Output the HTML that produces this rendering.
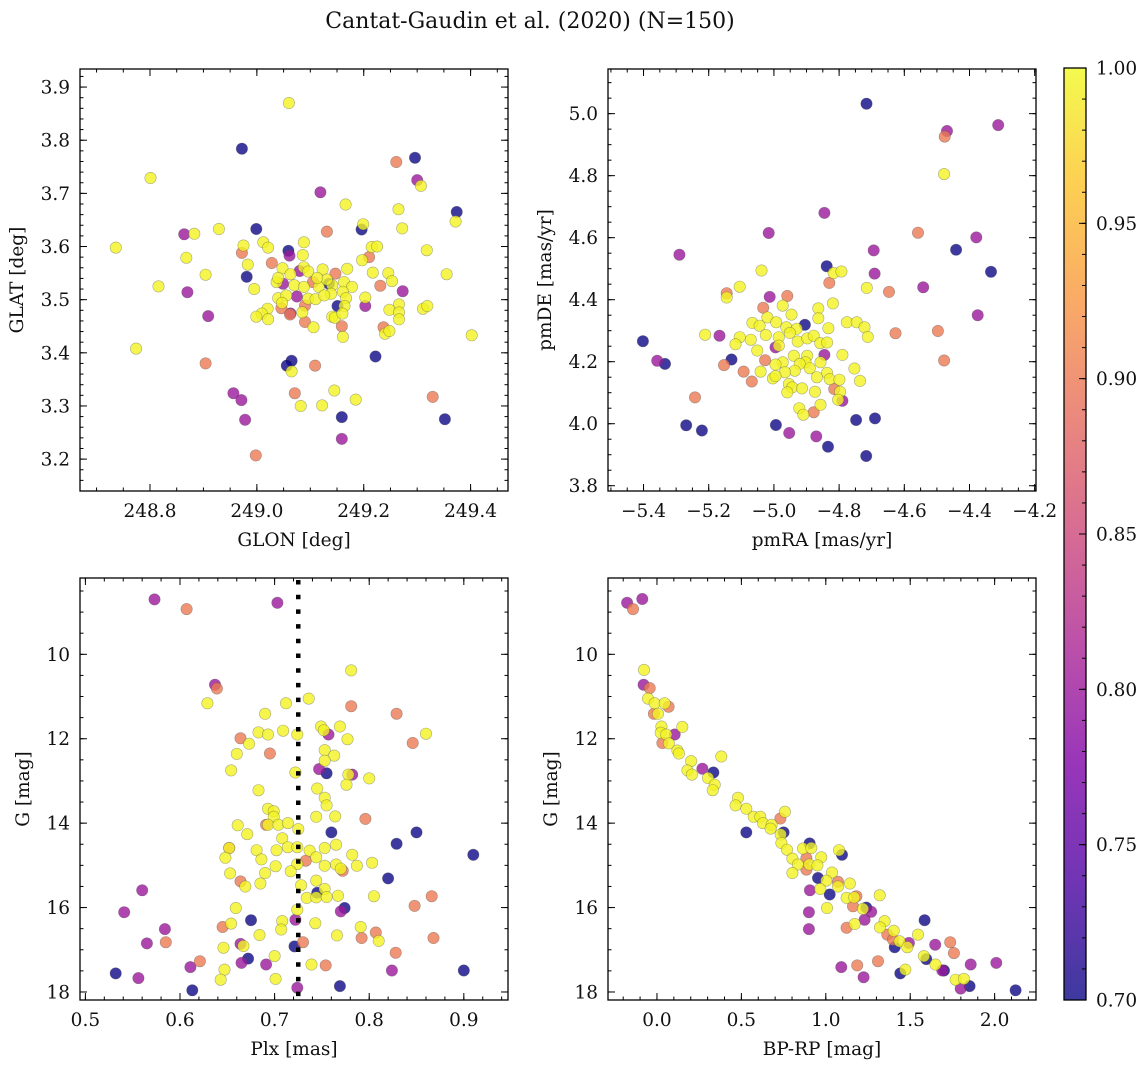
<!DOCTYPE html>
<html><head><meta charset="utf-8">
<style>
html,body{margin:0;padding:0;background:#fff;}
svg{display:block;font-family:"DejaVu Serif","Liberation Serif",serif;}
</style></head>
<body>
<svg id="fig" width="1148" height="1068" viewBox="0 0 1148 1068" xmlns="http://www.w3.org/2000/svg">
<text x="530" y="28" font-size="22" text-anchor="middle" fill="#111">Cantat-Gaudin et al. (2020) (N=150)</text>
</svg>
<script>
// ---- Panel 1: GLON vs GLAT ----
const p1_glon=[249.060,248.972,248.801,249.261,249.296,249.300,249.307,249.119,249.166,249.265,249.374,249.372,248.999,249.131,249.196,249.199,249.272,248.864,248.883,248.929,248.736,248.975,249.012,249.021,249.059,249.061,248.972,249.088,249.086,249.215,249.225,249.318,248.868,248.983,249.028,249.210,249.197,248.904,248.981,249.048,249.063,249.088,249.080,249.096,249.123,249.147,249.169,249.217,249.246,249.355,248.816,249.037,249.049,249.070,249.105,249.088,249.116,249.135,249.141,249.163,249.178,249.231,249.253,249.273,248.995,248.870,249.040,249.075,249.096,249.110,249.139,249.161,249.167,249.055,249.203,249.203,249.151,249.164,249.047,249.266,249.311,249.319,249.248,249.046,249.062,249.063,249.085,249.020,249.009,248.999,249.021,248.909,249.090,249.106,249.141,249.146,249.160,249.266,249.266,249.159,249.161,249.237,249.240,249.248,249.402,248.774,248.904,249.065,249.056,249.065,249.109,249.222,248.956,248.971,249.071,249.145,249.185,249.082,249.122,249.329,248.978,249.159,249.352,249.159,248.998,249.040,249.131,249.126,249.113,249.090];
const p1_glat=[3.870,3.784,3.729,3.759,3.767,3.725,3.714,3.702,3.679,3.670,3.665,3.647,3.633,3.628,3.632,3.642,3.634,3.623,3.624,3.633,3.598,3.602,3.608,3.598,3.592,3.583,3.588,3.608,3.584,3.599,3.600,3.593,3.579,3.566,3.569,3.580,3.574,3.547,3.543,3.559,3.548,3.561,3.554,3.553,3.557,3.549,3.558,3.551,3.550,3.548,3.525,3.533,3.530,3.527,3.533,3.524,3.524,3.530,3.527,3.533,3.524,3.526,3.535,3.516,3.520,3.514,3.503,3.506,3.502,3.501,3.511,3.515,3.503,3.508,3.504,3.488,3.488,3.488,3.494,3.491,3.483,3.488,3.481,3.484,3.472,3.474,3.476,3.483,3.474,3.468,3.463,3.469,3.458,3.448,3.468,3.466,3.474,3.476,3.463,3.450,3.430,3.448,3.436,3.441,3.433,3.408,3.380,3.385,3.376,3.365,3.376,3.393,3.324,3.311,3.324,3.329,3.312,3.300,3.301,3.317,3.274,3.279,3.275,3.238,3.207,3.541,3.538,3.508,3.541,3.489];
const p1_prob=[0.995,0.7,0.995,0.9,0.7,0.8,0.995,0.8,0.995,0.995,0.7,0.995,0.7,0.9,0.7,0.995,0.995,0.8,0.995,0.995,0.995,0.995,0.995,0.995,0.7,0.8,0.9,0.995,0.995,0.995,0.995,0.995,0.995,0.995,0.9,0.9,0.995,0.995,0.7,0.995,0.995,0.995,0.8,0.995,0.995,0.9,0.995,0.995,0.995,0.995,0.995,0.995,0.8,0.995,0.9,0.995,0.995,0.7,0.995,0.995,0.995,0.9,0.995,0.8,0.995,0.8,0.995,0.8,0.995,0.995,0.995,0.995,0.995,0.995,0.995,0.8,0.7,0.995,0.995,0.995,0.995,0.995,0.995,0.9,0.9,0.8,0.995,0.995,0.995,0.995,0.995,0.8,0.9,0.995,0.995,0.995,0.995,0.995,0.995,0.9,0.995,0.9,0.995,0.995,0.995,0.995,0.9,0.7,0.7,0.995,0.9,0.7,0.8,0.8,0.9,0.995,0.995,0.995,0.995,0.9,0.8,0.7,0.7,0.8,0.9,0.995,0.995,0.995,0.995,0.9];
const p1_xticks=[248.8,249.0,249.2,249.4];
const p1_yticks=[3.2,3.3,3.4,3.5,3.6,3.7,3.8,3.9];

// ---- Panel 2: pmRA vs pmDE ----
const p2_pmra=[-4.716,-4.312,-4.469,-4.476,-4.478,-4.845,-5.016,-4.558,-4.379,-5.290,-4.694,-4.441,-4.838,-4.334,-4.691,-5.038,-4.817,-4.793,-4.830,-5.105,-5.145,-5.145,-4.715,-4.647,-4.542,-5.013,-4.959,-4.819,-5.033,-4.973,-4.864,-4.375,-4.946,-4.864,-4.905,-5.066,-5.020,-4.993,-5.044,-4.962,-4.930,-4.833,-4.776,-4.746,-4.722,-4.712,-4.627,-4.497,-5.402,-5.211,-5.167,-5.105,-5.118,-5.071,-5.025,-4.985,-4.951,-4.927,-4.898,-4.878,-4.858,-4.837,-4.995,-4.985,-5.051,-5.358,-5.334,-5.130,-5.153,-5.027,-4.939,-4.898,-4.845,-4.857,-4.790,-4.903,-4.921,-4.973,-4.478,-4.995,-4.936,-4.890,-4.753,-5.093,-5.041,-4.966,-4.837,-5.068,-5.003,-4.995,-4.868,-4.829,-4.799,-4.736,-4.954,-4.944,-4.914,-4.959,-4.874,-4.815,-4.797,-5.242,-4.790,-4.803,-4.857,-4.922,-4.878,-4.910,-5.269,-5.221,-4.994,-4.953,-4.870,-4.748,-4.690,-4.834,-4.717];
const p2_pmde=[5.032,4.963,4.944,4.926,4.805,4.680,4.615,4.616,4.601,4.545,4.559,4.561,4.508,4.490,4.484,4.494,4.486,4.491,4.454,4.442,4.421,4.407,4.438,4.425,4.440,4.409,4.412,4.388,4.374,4.381,4.372,4.350,4.352,4.340,4.319,4.325,4.343,4.327,4.316,4.311,4.306,4.308,4.327,4.327,4.311,4.280,4.292,4.299,4.266,4.287,4.284,4.279,4.256,4.271,4.286,4.279,4.293,4.265,4.275,4.284,4.260,4.262,4.246,4.252,4.236,4.203,4.193,4.207,4.189,4.205,4.219,4.219,4.222,4.198,4.222,4.198,4.193,4.198,4.204,4.191,4.171,4.179,4.178,4.168,4.168,4.166,4.164,4.136,4.146,4.154,4.150,4.144,4.142,4.138,4.128,4.117,4.114,4.101,4.103,4.112,4.103,4.085,4.074,4.077,4.061,4.050,4.037,4.029,3.995,3.978,3.996,3.970,3.959,4.012,4.017,3.926,3.896];
const p2_prob=[0.7,0.8,0.8,0.9,0.995,0.8,0.8,0.9,0.8,0.8,0.8,0.7,0.7,0.7,0.8,0.995,0.995,0.995,0.9,0.995,0.9,0.995,0.995,0.9,0.8,0.8,0.9,0.995,0.9,0.995,0.995,0.8,0.995,0.995,0.7,0.995,0.995,0.995,0.995,0.995,0.995,0.995,0.995,0.995,0.995,0.995,0.9,0.9,0.7,0.995,0.8,0.995,0.995,0.995,0.995,0.995,0.995,0.995,0.995,0.995,0.995,0.995,0.8,0.995,0.995,0.8,0.7,0.7,0.9,0.9,0.995,0.995,0.8,0.995,0.995,0.995,0.995,0.995,0.9,0.995,0.995,0.995,0.995,0.9,0.995,0.995,0.995,0.9,0.995,0.995,0.995,0.995,0.995,0.995,0.995,0.995,0.995,0.995,0.995,0.9,0.995,0.9,0.8,0.995,0.995,0.995,0.9,0.995,0.7,0.7,0.7,0.8,0.8,0.7,0.7,0.7,0.7];
const p2_xticks=[-5.4,-5.2,-5.0,-4.8,-4.6,-4.4,-4.2];
const p2_yticks=[3.8,4.0,4.2,4.4,4.6,4.8,5.0];

// ---- Panel 3: Plx vs G ----
const p3_plx=[0.573,0.607,0.703,0.781,0.637,0.639,0.629,0.736,0.712,0.781,0.690,0.829,0.749,0.769,0.752,0.757,0.860,0.709,0.683,0.693,0.724,0.664,0.673,0.777,0.846,0.660,0.695,0.753,0.763,0.753,0.654,0.747,0.755,0.722,0.782,0.778,0.776,0.800,0.683,0.745,0.753,0.755,0.693,0.699,0.699,0.744,0.764,0.796,0.661,0.691,0.693,0.704,0.714,0.725,0.671,0.760,0.850,0.708,0.829,0.652,0.652,0.681,0.702,0.714,0.724,0.737,0.753,0.765,0.782,0.910,0.648,0.686,0.744,0.733,0.724,0.701,0.753,0.765,0.787,0.803,0.772,0.770,0.653,0.690,0.717,0.664,0.685,0.744,0.820,0.669,0.728,0.753,0.745,0.560,0.734,0.744,0.755,0.767,0.805,0.866,0.848,0.659,0.724,0.774,0.770,0.541,0.675,0.708,0.722,0.743,0.645,0.654,0.584,0.707,0.791,0.807,0.684,0.766,0.792,0.810,0.868,0.565,0.585,0.664,0.667,0.646,0.721,0.730,0.828,0.700,0.672,0.621,0.665,0.691,0.739,0.754,0.611,0.647,0.824,0.900,0.532,0.556,0.643,0.701,0.769,0.613,0.724];
const p3_g=[8.70,8.93,8.78,10.38,10.72,10.81,11.16,11.05,11.16,11.23,11.41,11.41,11.71,11.71,11.80,11.90,11.88,11.81,11.85,11.90,11.90,11.99,12.12,12.01,12.10,12.36,12.35,12.27,12.40,12.52,12.75,12.72,12.82,12.80,12.85,12.85,13.09,12.94,13.22,13.18,13.40,13.58,13.66,13.72,13.85,13.85,13.84,13.90,14.05,14.04,14.04,14.04,14.00,14.14,14.26,14.22,14.22,14.36,14.49,14.59,14.59,14.64,14.64,14.57,14.57,14.65,14.59,14.51,14.75,14.75,14.82,14.86,14.81,14.89,14.97,15.02,15.01,14.98,15.01,14.94,15.13,15.08,15.19,15.18,15.14,15.38,15.43,15.36,15.31,15.50,15.47,15.56,15.65,15.59,15.77,15.76,15.75,15.72,15.73,15.73,15.96,16.01,16.05,16.01,16.09,16.11,16.30,16.32,16.29,16.37,16.46,16.38,16.51,16.52,16.46,16.59,16.65,16.66,16.72,16.79,16.72,16.85,16.82,16.86,16.91,16.95,16.92,16.82,17.07,17.15,17.21,17.27,17.31,17.35,17.35,17.37,17.41,17.47,17.49,17.49,17.56,17.67,17.71,17.69,17.86,17.96,17.90];
const p3_prob=[0.8,0.9,0.8,0.995,0.8,0.9,0.995,0.995,0.995,0.9,0.995,0.9,0.995,0.995,0.995,0.8,0.995,0.995,0.995,0.995,0.995,0.9,0.995,0.995,0.9,0.995,0.9,0.995,0.995,0.995,0.995,0.8,0.7,0.995,0.8,0.995,0.995,0.995,0.995,0.995,0.995,0.995,0.995,0.995,0.995,0.995,0.995,0.9,0.995,0.9,0.995,0.995,0.995,0.995,0.995,0.7,0.7,0.995,0.7,0.9,0.995,0.995,0.995,0.995,0.995,0.995,0.995,0.995,0.995,0.7,0.995,0.995,0.995,0.9,0.995,0.995,0.995,0.995,0.995,0.995,0.9,0.995,0.995,0.995,0.995,0.9,0.995,0.995,0.7,0.995,0.995,0.995,0.7,0.8,0.995,0.995,0.995,0.995,0.995,0.9,0.9,0.995,0.995,0.7,0.8,0.8,0.7,0.995,0.8,0.995,0.9,0.995,0.8,0.995,0.995,0.9,0.995,0.995,0.9,0.995,0.9,0.8,0.9,0.8,0.995,0.995,0.7,0.9,0.9,0.995,0.7,0.9,0.8,0.8,0.995,0.9,0.8,0.995,0.8,0.7,0.7,0.8,0.995,0.995,0.7,0.7,0.8];
const p3_xticks=[0.5,0.6,0.7,0.8,0.9];
const p3_yticks=[10,12,14,16,18];
const p3_vline=[0.725];

// ---- Panel 4: BP-RP vs G ----
const p4_bprp=[-0.177,-0.087,-0.142,-0.077,-0.079,-0.043,-0.053,-0.014,0.046,0.069,-0.018,0.006,0.026,0.150,0.105,0.022,0.055,0.032,0.071,0.121,0.130,0.381,0.202,0.269,0.334,0.180,0.207,0.302,0.342,0.330,0.480,0.466,0.529,0.573,0.612,0.731,0.758,0.628,0.529,0.679,0.673,0.750,0.733,0.737,0.770,0.904,0.865,0.914,1.078,1.096,0.802,0.885,0.973,0.835,0.902,0.885,0.950,0.802,0.954,1.037,1.003,1.072,1.143,0.906,0.967,1.023,1.072,1.123,1.181,1.168,1.319,1.007,1.161,1.240,1.269,1.220,0.900,1.230,1.585,1.348,1.123,1.171,1.321,0.900,1.402,1.364,1.546,1.398,1.437,1.492,1.408,1.483,1.648,1.737,1.759,1.581,1.595,1.309,1.092,1.186,1.650,1.858,2.010,1.441,1.471,1.690,1.700,1.224,1.769,1.818,1.852,1.799,2.124];
const p4_g=[8.78,8.69,8.93,10.37,10.72,10.80,11.05,11.16,11.16,11.24,11.41,11.41,11.71,11.72,11.90,11.86,11.90,12.10,12.11,12.28,12.35,12.42,12.53,12.71,12.80,12.75,12.85,12.93,13.09,13.22,13.40,13.58,13.66,13.85,13.85,13.89,13.73,14.00,14.22,14.04,14.13,14.22,14.27,14.47,14.63,14.48,14.60,14.59,14.64,14.75,14.84,14.83,14.81,14.98,14.98,15.10,15.00,15.18,15.30,15.17,15.36,15.39,15.43,15.59,15.56,15.69,15.50,15.77,15.73,15.76,15.71,16.01,15.97,16.00,16.10,16.03,16.11,16.29,16.30,16.32,16.48,16.39,16.47,16.51,16.55,16.64,16.64,16.76,16.80,16.84,16.94,16.94,16.88,16.82,17.08,17.15,17.22,17.27,17.41,17.37,17.35,17.35,17.31,17.56,17.47,17.49,17.49,17.65,17.71,17.69,17.86,17.92,17.96];
const p4_prob=[0.8,0.8,0.9,0.995,0.8,0.9,0.995,0.995,0.995,0.9,0.9,0.995,0.995,0.995,0.8,0.995,0.995,0.9,0.995,0.995,0.995,0.995,0.995,0.8,0.7,0.995,0.995,0.995,0.995,0.995,0.995,0.995,0.995,0.995,0.995,0.9,0.995,0.995,0.7,0.995,0.995,0.7,0.995,0.995,0.995,0.7,0.995,0.995,0.995,0.7,0.995,0.9,0.995,0.995,0.995,0.9,0.995,0.995,0.7,0.995,0.995,0.9,0.995,0.8,0.995,0.7,0.995,0.995,0.9,0.995,0.995,0.995,0.9,0.7,0.8,0.995,0.8,0.8,0.7,0.995,0.9,0.995,0.995,0.8,0.995,0.9,0.995,0.9,0.995,0.8,0.7,0.995,0.8,0.9,0.9,0.995,0.7,0.9,0.8,0.9,0.995,0.8,0.8,0.7,0.995,0.8,0.7,0.8,0.995,0.995,0.7,0.8,0.7];
const p4_xticks=[0.0,0.5,1.0,1.5,2.0];
const p4_yticks=[10,12,14,16,18];

// ---- Colorbar ----
const cb_ticks=[0.70,0.75,0.80,0.85,0.90,0.95,1.00];
const cb_range=[0.70,1.00];

const NS="http://www.w3.org/2000/svg";
const svg=document.getElementById('fig');
function mk(tag,attrs,parent){const e=document.createElementNS(NS,tag);for(const k in attrs)e.setAttribute(k,attrs[k]);(parent||svg).appendChild(e);return e;}

const plasma=[[13,8,135],[76,2,161],[126,3,168],[169,35,149],[204,71,120],[229,107,93],[248,149,64],[253,195,40],[240,249,33]];
function cmap(t){t=Math.max(0,Math.min(1,t));const s=t*(plasma.length-1);const i=Math.min(plasma.length-2,Math.floor(s));const f=s-i;const a=plasma[i],b=plasma[i+1];return 'rgb('+[0,1,2].map(k=>Math.round(a[k]+(b[k]-a[k])*f)).join(',')+')';}
function probColor(p){return cmap((p-cb_range[0])/(cb_range[1]-cb_range[0]));}
function fmt(v,d){return v.toFixed(d).replace('-','\u2212');}
const FS=18.5;

function panel(cfg){
  const g=mk('g',{});
  
  
  const sx=v=>cfg.x0+(v-cfg.xlim[0])/(cfg.xlim[1]-cfg.xlim[0])*cfg.w;
  const sy=cfg.invert? (v=>cfg.y0+(v-cfg.ylim[0])/(cfg.ylim[1]-cfg.ylim[0])*cfg.h)
                     : (v=>cfg.y0+cfg.h-(v-cfg.ylim[0])/(cfg.ylim[1]-cfg.ylim[0])*cfg.h);
  const cid='clip-'+cfg.name;
  const cp=mk('clipPath',{id:cid},g);mk('rect',{x:cfg.x0,y:cfg.y0,width:cfg.w,height:cfg.h},cp);
  const pts=mk('g',{'clip-path':'url(#'+cid+')'},g);
  
  
  const idx=cfg.xs.map((_,i)=>i).filter(i=>i<cfg.ys.length&&i<cfg.ps.length).sort((a,b)=>cfg.ps[a]-cfg.ps[b]);
  for(const i of idx){
    const c=mk('circle',{cx:sx(cfg.xs[i]).toFixed(1),cy:sy(cfg.ys[i]).toFixed(1),r:5.7,fill:probColor(cfg.ps[i]),'fill-opacity':0.8,stroke:'rgba(70,70,70,0.45)','stroke-width':0.6},pts);
    
    
  }
  if(cfg.vline){for(const v of cfg.vline){const l=mk('line',{x1:sx(v),x2:sx(v),y1:cfg.y0+2,y2:cfg.y0+cfg.h,stroke:'#000','stroke-width':4.5,'stroke-dasharray':'4.5 10.2'},pts);
    
    }}
  const tk=mk('g',{stroke:'#000','stroke-width':1},g);
  const eps=1e-9;
  const x0=cfg.x0,x1=cfg.x0+cfg.w,y0=cfg.y0,y1=cfg.y0+cfg.h;
  const inX=v=>{const p=sx(v);return p>=x0-0.5&&p<=x1+0.5;};
  const inY=v=>{const p=sy(v);return p>=y0-0.5&&p<=y1+0.5;};
  const xlo=Math.min(...cfg.xlim),xhi=Math.max(...cfg.xlim),ylo=Math.min(...cfg.ylim),yhi=Math.max(...cfg.ylim);
  for(let v=Math.ceil(xlo/cfg.xminor)*cfg.xminor;v<=xhi+eps;v+=cfg.xminor){if(!inX(v))continue;const p=sx(v);
    mk('line',{x1:p,x2:p,y1:y1,y2:y1-3.5},tk);mk('line',{x1:p,x2:p,y1:y0,y2:y0+3.5},tk);}
  for(let v=Math.ceil(ylo/cfg.yminor)*cfg.yminor;v<=yhi+eps;v+=cfg.yminor){if(!inY(v))continue;const p=sy(v);
    mk('line',{x1:x0,x2:x0+3.5,y1:p,y2:p},tk);mk('line',{x1:x1,x2:x1-3.5,y1:p,y2:p},tk);}
  for(const v of cfg.xticks){if(!inX(v))continue;const p=sx(v);
    mk('line',{x1:p,x2:p,y1:y1,y2:y1-7},tk);mk('line',{x1:p,x2:p,y1:y0,y2:y0+7},tk);
    const t=mk('text',{x:p,y:y1+26,'font-size':FS,'text-anchor':'middle',fill:'#111'},g);t.textContent=fmt(v,cfg.xdec);
    
    }
  for(const v of cfg.yticks){if(!inY(v))continue;const p=sy(v);
    mk('line',{x1:x0,x2:x0+7,y1:p,y2:p},tk);mk('line',{x1:x1,x2:x1-7,y1:p,y2:p},tk);
    const t=mk('text',{x:x0-10,y:p+6.5,'font-size':FS,'text-anchor':'end',fill:'#111'},g);t.textContent=fmt(v,cfg.ydec);
    
    }
  mk('rect',{x:x0,y:y0,width:cfg.w,height:cfg.h,fill:'none',stroke:'#000','stroke-width':1.3},g);
  const xl=mk('text',{x:x0+cfg.w/2,y:y1+55,'font-size':FS,'text-anchor':'middle',fill:'#111'},g);xl.textContent=cfg.xlabel;
  
  
  const yc=y0+cfg.h/2;
  const yl=mk('text',{x:cfg.ylabelX,y:yc,'font-size':FS,'text-anchor':'middle',fill:'#111',transform:'rotate(-90 '+cfg.ylabelX+' '+yc+')'},g);yl.textContent=cfg.ylabel;
  
  
}

panel({name:'panel-glon-glat',x0:80,y0:69,w:428,h:422,xlim:[248.669,249.470],ylim:[3.140,3.934],xs:p1_glon,ys:p1_glat,ps:p1_prob,
  xticks:p1_xticks,yticks:p1_yticks,xminor:0.05,yminor:0.02,xdec:1,ydec:1,xlabel:'GLON [deg]',ylabel:'GLAT [deg]',ylabelX:23});
panel({name:'panel-pm',x0:608,y0:69,w:428,h:422,xlim:[-5.509,-4.196],ylim:[3.783,5.144],xs:p2_pmra,ys:p2_pmde,ps:p2_prob,
  xticks:p2_xticks,yticks:p2_yticks,xminor:0.05,yminor:0.05,xdec:1,ydec:1,xlabel:'pmRA [mas/yr]',ylabel:'pmDE [mas/yr]',ylabelX:551});
panel({name:'panel-plx-g',x0:80,y0:578,w:428,h:422,xlim:[0.4943,0.9467],ylim:[8.192,18.19],invert:true,xs:p3_plx,ys:p3_g,ps:p3_prob,vline:p3_vline,
  xticks:p3_xticks,yticks:p3_yticks,xminor:0.02,yminor:0.5,xdec:1,ydec:0,xlabel:'Plx [mas]',ylabel:'G [mag]',ylabelX:29});
panel({name:'panel-cmd',x0:608,y0:578,w:428,h:422,xlim:[-0.290,2.245],ylim:[8.192,18.19],invert:true,xs:p4_bprp,ys:p4_g,ps:p4_prob,
  xticks:p4_xticks,yticks:p4_yticks,xminor:0.1,yminor:0.5,xdec:1,ydec:0,xlabel:'BP-RP [mag]',ylabel:'G [mag]',ylabelX:557});

(function(){
  const cx=1064,cy=68,cw=22,ch=932;
  const g=mk('g',{});
  
  
  const defs=mk('defs',{},g);
  const lg=mk('linearGradient',{id:'cbgrad',x1:0,y1:1,x2:0,y2:0},defs);
  for(let i=0;i<=16;i++){const t=i/16;mk('stop',{offset:t,'stop-color':cmap(t),'stop-opacity':0.8},lg);}
  mk('rect',{x:cx,y:cy,width:cw,height:ch,fill:'url(#cbgrad)'},g);
  const sy=v=>cy+ch-(v-cb_range[0])/(cb_range[1]-cb_range[0])*ch;
  for(let v=cb_range[0];v<=cb_range[1]+1e-9;v+=0.01){const p=sy(v);mk('line',{x1:cx+cw,x2:cx+cw-4,y1:p,y2:p,stroke:'#000','stroke-width':1},g);}
  for(const v of cb_ticks){const p=sy(v);mk('line',{x1:cx+cw,x2:cx+cw-7,y1:p,y2:p,stroke:'#000','stroke-width':1},g);
    const t=mk('text',{x:cx+cw+10,y:p+6.5,'font-size':FS,fill:'#111'},g);t.textContent=v.toFixed(2);
    
    }
  mk('rect',{x:cx,y:cy,width:cw,height:ch,fill:'none',stroke:'#000','stroke-width':1.3},g);
})();
</script>
</body></html>
